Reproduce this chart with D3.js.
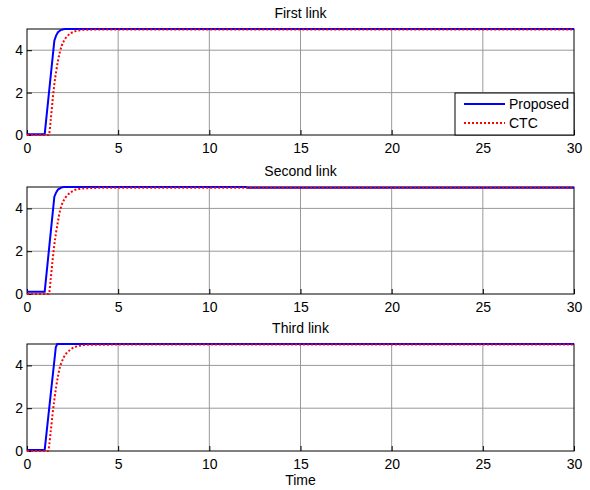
<!DOCTYPE html>
<html>
<head>
<meta charset="utf-8">
<script src="https://cdn.jsdelivr.net/npm/d3@7"></script>
<style>
  body { margin: 0; background: #fff; }
  text { font-family: "Liberation Sans", Arial, sans-serif; }
</style>
</head>
<body>
<script>
// Data
let titles = ['First link', 'Second link', 'Third link'];
let seriesNames = ['Proposed', 'CTC'];
let xTicks = [0, 5, 10, 15, 20, 25, 30];
let yTicks = [0, 2, 4];

let tBlue1 = [0, 0.97, 1.5, 1.6, 1.7, 1.85, 2.05, 30];
let vBlue1 = [0.03, 0.03, 4.45, 4.7, 4.85, 4.95, 5, 5];
let tRed1 = [0, 1.2, 1.3, 1.4, 1.5, 1.6, 1.7, 1.8, 1.9, 2.0, 2.2, 2.4, 2.6, 2.8, 3.0, 3.5, 4.0, 30];
let vRed1 = [0, 0, 0.7, 1.6, 2.4, 3.0, 3.5, 3.9, 4.2, 4.4, 4.65, 4.8, 4.88, 4.93, 4.95, 4.97, 4.98, 4.98];

let tBlue2 = [0, 0.97, 1.5, 1.6, 1.7, 1.85, 2.0, 12, 12.1, 30];
let vBlue2 = [0.1, 0.1, 4.55, 4.75, 4.88, 4.96, 5, 5, 4.97, 4.97];
let tRed2 = [0, 1.2, 1.3, 1.4, 1.5, 1.6, 1.7, 1.8, 1.9, 2.0, 2.2, 2.4, 2.6, 2.8, 3.0, 3.5, 4.0, 30];
let vRed2 = [0, 0, 0.7, 1.55, 2.3, 2.9, 3.4, 3.85, 4.15, 4.35, 4.6, 4.75, 4.85, 4.9, 4.93, 4.95, 4.96, 4.96];

let tBlue3 = [0, 0.97, 1.58, 1.66, 30];
let vBlue3 = [0.05, 0.05, 4.85, 5, 5];
let tRed3 = [0, 1.15, 1.3, 1.4, 1.5, 1.6, 1.7, 1.8, 1.9, 2.0, 2.2, 2.4, 2.6, 2.8, 3.0, 3.5, 30];
let vRed3 = [0, 0, 0.9, 1.7, 2.4, 3.0, 3.5, 3.9, 4.15, 4.35, 4.6, 4.75, 4.85, 4.9, 4.94, 4.97, 4.98];

let panels = [
  { title: titles[0], blue: [tBlue1, vBlue1], red: [tRed1, vRed1], top: 29, bottom: 135 },
  { title: titles[1], blue: [tBlue2, vBlue2], red: [tRed2, vRed2], top: 187, bottom: 294 },
  { title: titles[2], blue: [tBlue3, vBlue3], red: [tRed3, vRed3], top: 344, bottom: 451 }
];

let width = 590, height = 490;
let left = 27, right = 574;

let svg = d3.select('body')
  .append('svg')
  .attr('width', width)
  .attr('height', height);

let xScale = d3.scaleLinear().domain([0, 30]).range([left, right]);

panels.forEach((p, i) => {
  let yScale = d3.scaleLinear().domain([0, 5]).range([p.bottom, p.top]);
  let g = svg.append('g');

  // grid
  g.selectAll('.gx')
    .data(xTicks.slice(1, -1))
    .enter().append('line')
    .attr('x1', d => xScale(d)).attr('x2', d => xScale(d))
    .attr('y1', p.top).attr('y2', p.bottom)
    .attr('stroke', '#999').attr('stroke-width', 1);
  g.selectAll('.gy')
    .data(yTicks.slice(1))
    .enter().append('line')
    .attr('x1', left).attr('x2', right)
    .attr('y1', d => yScale(d)).attr('y2', d => yScale(d))
    .attr('stroke', '#999').attr('stroke-width', 1);

  // axes (ticks drawn inward)
  g.append('g')
    .attr('transform', `translate(0,${p.bottom})`)
    .call(d3.axisBottom(xScale).tickValues(xTicks).tickFormat(d3.format('d')).tickSize(-5).tickPadding(8))
    .call(a => a.select('.domain').remove())
    .call(a => a.selectAll('text').style('font-size', '14px').attr('fill', '#000'));
  g.append('g')
    .attr('transform', `translate(${left},0)`)
    .call(d3.axisLeft(yScale).tickValues(yTicks).tickFormat(d3.format('d')).tickSize(-5).tickPadding(4))
    .call(a => a.select('.domain').remove())
    .call(a => a.selectAll('text').style('font-size', '14px').attr('fill', '#000'));

  // box
  g.append('rect')
    .attr('x', left).attr('y', p.top)
    .attr('width', right - left).attr('height', p.bottom - p.top)
    .attr('fill', 'none').attr('stroke', '#000').attr('stroke-width', 1);

  // title
  g.append('text')
    .attr('x', (left + right) / 2)
    .attr('y', p.top - 11)
    .attr('text-anchor', 'middle')
    .style('font-size', '14px')
    .text(p.title);

  let line = d3.line()
    .x(d => xScale(d[0]))
    .y(d => yScale(d[1]));

  let red = p.red[0].map((t, k) => [t, p.red[1][k]]);
  let blue = p.blue[0].map((t, k) => [t, p.blue[1][k]]);

  g.append('path')
    .datum(blue)
    .attr('d', line.curve(d3.curveLinear))
    .attr('fill', 'none')
    .attr('stroke', '#0000ff')
    .attr('stroke-width', 2);

  g.append('path')
    .datum(red)
    .attr('d', line.curve(d3.curveMonotoneX))
    .attr('fill', 'none')
    .attr('stroke', '#ff0000')
    .attr('stroke-width', 2)
    .attr('stroke-dasharray', '2,2');
});

// legend in first panel
let lg = svg.append('g');
lg.append('rect')
  .attr('x', 455).attr('y', 93)
  .attr('width', 119).attr('height', 42)
  .attr('fill', '#fff').attr('stroke', '#000').attr('stroke-width', 1);
let legendColors = ['#0000ff', '#ff0000'];
seriesNames.forEach((name, i) => {
  let y = 104 + i * 19;
  lg.append('line')
    .attr('x1', 464).attr('x2', 505)
    .attr('y1', y).attr('y2', y)
    .attr('stroke', legendColors[i])
    .attr('stroke-width', 2)
    .attr('stroke-dasharray', i === 1 ? '2,2' : null);
  lg.append('text')
    .attr('x', 509).attr('y', y + 5)
    .style('font-size', '14px')
    .text(name);
});

// x axis title
svg.append('text')
  .attr('x', (left + right) / 2)
  .attr('y', 485)
  .attr('text-anchor', 'middle')
  .style('font-size', '14px')
  .text('Time');
</script>
</body>
</html>
